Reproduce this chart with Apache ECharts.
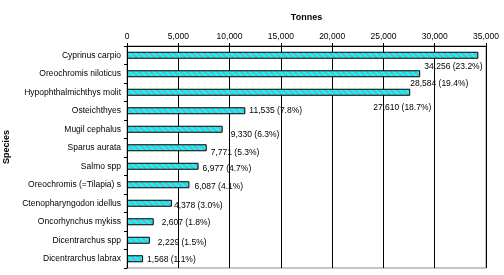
<!DOCTYPE html>
<html>
<head>
<meta charset="utf-8">
<script src="https://cdn.jsdelivr.net/npm/echarts@6/dist/echarts.min.js"></script>
<style>
  html, body { margin: 0; padding: 0; background: #fff; }
  #chart { width: 504px; height: 275px; }
</style>
</head>
<body>
<div id="chart"></div>
<script>
// data
const species = [
  'Cyprinus carpio', 'Oreochromis niloticus', 'Hypophthalmichthys molit',
  'Osteichthyes', 'Mugil cephalus', 'Sparus aurata', 'Salmo spp',
  'Oreochromis (=Tilapia) s', 'Ctenopharyngodon idellus', 'Oncorhynchus mykiss',
  'Dicentrarchus spp', 'Dicentrarchus labrax'
];
const tonnes = [34256, 28584, 27610, 11535, 9330, 7771, 6977, 6087, 4378, 2607, 2229, 1568];
const shares = [23.2, 19.4, 18.7, 7.8, 6.3, 5.3, 4.7, 4.1, 3.0, 1.8, 1.5, 1.1];

// where each value label sits relative to its bar end (excel put them a bit all over)
const labelShift = [[-54, 11], [-10, 10], [-37, 15], [4, 0], [8, 5], [4, 5], [4, 2], [5, 2], [2, 2], [8, 1], [8, 2], [4, 1]];

const font = 'Liberation Sans';

// hatched cyan fill
function hatch() {
  const n = 6;
  const c = document.createElement('canvas');
  c.width = n; c.height = n;
  const ctx = c.getContext('2d');
  ctx.fillStyle = '#00ffff';
  ctx.fillRect(0, 0, n, n);
  ctx.fillStyle = '#6fb4c9';
  for (let y = 0; y < n; y++) {
    for (let k = 0; k < 3; k++) ctx.fillRect((y + k) % n, y, 1, 1);
  }
  return c;
}

const fmt = v => v.toLocaleString('en-US');

const chart = echarts.init(document.getElementById('chart'));
chart.setOption({
  animation: false,
  textStyle: { fontFamily: font },
  grid: {
    left: 127, right: 18, top: 46, bottom: 7,
    outerBoundsMode: 'none',
    show: true, borderColor: '#888', borderWidth: 1
  },
  xAxis: {
    type: 'value',
    position: 'top',
    min: 0, max: 35000, interval: 5000,
    name: 'Tonnes',
    nameLocation: 'middle',
    nameGap: 24,
    nameTextStyle: { fontFamily: font, fontSize: 9, fontWeight: 'bold', color: '#000' },
    axisLine: { show: true, lineStyle: { color: '#000', width: 1 } },
    axisTick: { show: true, length: 3, lineStyle: { color: '#000' } },
    axisLabel: { fontFamily: font, fontSize: 8.5, color: '#000', margin: 5, formatter: fmt },
    splitLine: { show: true, lineStyle: { color: '#000', width: 1 } }
  },
  yAxis: {
    type: 'category',
    inverse: true,
    data: species,
    name: 'Species',
    nameLocation: 'middle',
    nameRotate: 90,
    nameGap: 114,
    nameTextStyle: { fontFamily: font, fontSize: 9, fontWeight: 'bold', color: '#000', padding: [0, 0, 0, 20] },
    axisLine: { show: true, lineStyle: { color: '#000', width: 1 } },
    axisTick: { show: true, length: 3, lineStyle: { color: '#000' } },
    axisLabel: { fontFamily: font, fontSize: 8.5, color: '#000', margin: 6 }
  },
  series: [{
    type: 'bar',
    barWidth: 7,
    data: tonnes.map((v, i) => ({
      value: v,
      label: { offset: labelShift[i] }
    })),
    itemStyle: {
      color: { image: hatch(), repeat: 'repeat' },
      borderColor: '#000',
      borderWidth: 1
    },
    label: {
      show: true,
      position: 'right',
      distance: 0,
      fontFamily: font,
      fontSize: 8.5,
      color: '#000',
      formatter: p => fmt(p.value) + ' (' + shares[p.dataIndex].toFixed(1) + '%)'
    }
  }]
});
</script>
</body>
</html>
